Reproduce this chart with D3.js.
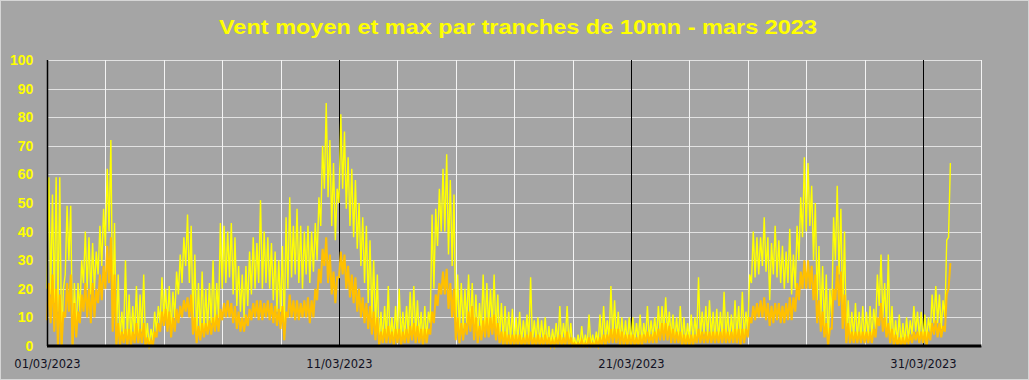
<!DOCTYPE html>
<html><head><meta charset="utf-8">
<script src="https://cdn.jsdelivr.net/npm/d3@7"></script>
<style>html,body{margin:0;padding:0;background:#A5A5A5;}svg{display:block;}</style>
</head><body>
<svg id="chart" width="1029" height="380"></svg>
<script>
const title = "Vent moyen et max par tranches de 10mn - mars 2023";
const xTickDays = [0, 10, 20, 30];
const xTickLabels = ["01/03/2023", "11/03/2023", "21/03/2023", "31/03/2023"];
const yTicks = [0,10,20,30,40,50,60,70,80,90,100];
// 3-hour blocks (8 per day), envelope
const maxHigh = [
59,53,59,59,20,49,49,22, 22,30,40,38,36,33,42,48, 62,72,43,25,12,30,18,14, 21,18,25,8,6,12,14,24,
20,21,19,26,32,38,46,42, 32,22,26,20,22,30,22,43, 42,40,43,38,28,25,28,33, 38,36,51,40,38,36,33,30,
35,45,52,42,48,42,40,42, 40,43,52,70,85,72,64,55, 81,75,66,62,58,50,45,42, 37,30,25,12,14,21,10,14,
20,12,14,19,21,16,12,14, 12,46,48,55,62,67,58,53, 25,22,20,25,22,18,15,25, 22,20,25,18,15,14,12,13,
10,12,9,11,24,9,10,9, 10,7,6,8,14,8,14,8, 3,4,7,4,11,4,5,11, 14,9,21,16,12,10,9,10,
10,8,11,8,14,9,10,14, 14,17,12,11,10,14,10,8, 11,10,24,12,14,16,12,13, 12,19,12,11,16,14,19,12,
25,40,38,38,45,38,36,42, 37,35,33,41,32,42,52,66, 64,56,50,35,28,25,20,45, 56,48,40,16,12,15,12,14,
12,14,13,25,32,22,32,14, 9,11,8,10,9,14,12,12, 11,10,18,21,18,16,37,64];
const maxLow = [
20,18,15,12,0,25,30,0, 5,12,22,20,18,20,25,28, 35,40,10,2,2,4,3,2, 4,3,5,0,0,2,5,8,
10,8,5,10,18,22,28,22, 8,3,4,5,6,8,6,10, 20,22,24,18,14,12,10,14, 18,20,22,20,22,20,16,12,
12,5,20,24,25,22,20,25, 22,26,30,42,55,52,42,37, 50,55,48,42,38,34,28,22, 15,10,6,0,2,3,2,2,
3,2,3,4,5,4,3,2, 2,8,20,35,40,40,32,28, 5,5,6,8,6,4,3,5, 5,6,7,4,2,2,1,2,
1,2,1,2,2,1,2,1, 1,0,0,1,1,1,2,0, 0,0,0,0,0,0,0,1, 1,2,2,3,2,2,1,1,
1,1,2,1,2,2,3,3, 4,5,4,3,2,2,2,1, 2,2,3,3,4,3,3,2, 2,3,3,2,3,3,2,3,
5,22,24,25,28,26,16,25, 24,22,20,22,18,20,30,38, 40,42,30,16,10,6,0,10, 30,25,10,2,3,3,2,2,
2,3,3,6,14,10,6,2, 1,1,0,1,2,4,5,3, 2,2,5,8,8,6,10,38];
const avgHigh = [
22,25,20,18,12,22,25,15, 12,18,22,20,22,20,25,28, 35,38,25,8,5,6,6,5, 8,6,8,3,2,5,8,12,
13,12,10,13,14,16,17,18, 10,7,8,8,9,10,11,13, 15,16,15,14,12,10,11,13, 15,16,16,15,16,15,14,13,
14,12,18,16,16,15,16,17, 16,20,27,34,38,32,26,24, 33,32,28,25,24,20,17,15, 14,12,10,5,6,7,5,6,
6,5,6,7,8,7,6,6, 6,12,18,22,26,27,22,20, 10,8,8,12,14,10,7,9, 10,10,11,8,5,5,4,4,
4,4,3,4,5,3,4,3, 4,3,2,3,4,3,5,3, 1,1,2,1,3,1,2,3, 4,4,6,6,6,5,4,4,
4,3,4,4,5,4,5,6, 8,8,7,6,5,5,4,4, 4,4,6,5,5,5,5,5, 5,6,5,5,6,6,6,6,
10,14,15,16,17,15,14,15, 15,14,15,17,17,22,26,30, 30,28,25,16,12,8,6,20, 28,26,18,8,5,5,5,5,
5,5,6,10,15,10,8,6, 4,3,3,3,4,5,5,5, 5,5,8,9,8,7,18,29];
const avgLow = [
9,8,5,0,0,10,12,0, 3,8,12,10,8,10,15,16, 20,22,5,0,0,1,0,0, 1,1,1,0,0,0,3,5,
7,5,3,5,8,10,12,10, 4,1,2,3,4,4,5,5, 9,10,10,8,6,5,5,7, 9,10,9,9,10,9,8,7,
6,2,10,10,9,9,10,10, 8,10,16,22,28,22,18,15, 24,25,20,17,15,12,10,8, 6,4,2,0,1,1,1,0,
1,0,1,1,2,1,1,0, 1,4,8,14,18,18,13,10, 2,1,2,4,5,2,1,2, 3,3,4,2,1,0,0,0,
0,0,0,0,0,0,0,0, 0,0,0,0,0,0,0,0, 0,0,0,0,0,0,0,0, 0,0,1,1,1,0,0,0,
0,0,0,0,1,1,1,1, 2,2,2,1,1,1,0,0, 0,0,1,1,1,1,1,1, 1,1,1,1,1,1,0,1,
3,8,9,10,10,9,7,8, 9,8,8,9,9,12,16,20, 20,20,16,8,5,3,0,6, 16,14,6,1,1,1,1,1,
1,1,1,3,7,5,3,1, 0,0,0,0,1,1,2,1, 1,0,2,4,3,3,5,20];

const svg = d3.select("#chart");
const W = 1029, H = 380;
const x = d3.scaleLinear().domain([0, 32]).range([47, 981.4]);
const y = d3.scaleLinear().domain([0, 100]).range([346, 60]);

svg.append("rect").attr("x",0.5).attr("y",0.5).attr("width",W-1).attr("height",H-1)
  .attr("fill","#A5A5A5").attr("stroke","#D6D6D6").attr("stroke-width",1);

// horizontal grid
svg.append("g").selectAll("line").data(yTicks.filter(v => v > 0)).join("line")
  .attr("x1", x(0)).attr("x2", x(32))
  .attr("y1", d => Math.round(y(d)) + 0.5).attr("y2", d => Math.round(y(d)) + 0.5)
  .attr("stroke", "#E2E2E2").attr("stroke-width", 1);

// vertical grid every 2 days
const vDays = d3.range(2, 33, 2);
svg.append("g").selectAll("line").data(vDays).join("line")
  .attr("x1", d => Math.round(x(d)) + 0.5).attr("x2", d => Math.round(x(d)) + 0.5)
  .attr("y1", y(100)).attr("y2", y(0))
  .attr("stroke", "#F4F4F4").attr("stroke-width", 1);
// black separators
svg.append("g").selectAll("line").data([10, 20, 30]).join("line")
  .attr("x1", d => Math.round(x(d)) + 0.5).attr("x2", d => Math.round(x(d)) + 0.5)
  .attr("y1", y(100)).attr("y2", y(0))
  .attr("stroke", "#000").attr("stroke-width", 1);

function buildPoints(high, low) {
  const pts = [];
  for (let i = 0; i < high.length; i++) {
    const t = i / 8;
    pts.push([t, low[i]]);
    pts.push([t + 1 / 16, high[i]]);
  }
  return pts;
}
const line = d3.line().x(d => x(d[0])).y(d => y(d[1]));

svg.append("path").datum(buildPoints(maxHigh, maxLow))
  .attr("d", line).attr("fill", "none").attr("stroke", "#FFFF00")
  .attr("stroke-width", 1.4).attr("stroke-linejoin", "miter");
svg.append("path").datum(buildPoints(avgHigh, avgLow))
  .attr("d", line).attr("fill", "none").attr("stroke", "#FFC000")
  .attr("stroke-width", 2).attr("stroke-linejoin", "miter");

// y axis
const yAxis = svg.append("g").attr("transform", `translate(${x(0)},0)`)
  .call(d3.axisLeft(y).tickValues(yTicks).tickSize(0).tickPadding(13.7));
yAxis.select(".domain").remove();
yAxis.selectAll("text").attr("fill", "#FFFF00")
  .style("font-family", "'Liberation Sans', Arial, sans-serif")
  .style("font-weight", "bold").style("font-size", "14px");
svg.append("line").attr("x1", 47.5).attr("x2", 47.5).attr("y1", y(100)).attr("y2", y(0))
  .attr("stroke", "#000").attr("stroke-width", 1.5);

// x axis
const xAxis = svg.append("g").attr("transform", `translate(0,${y(0)})`)
  .call(d3.axisBottom(x).tickValues(xTickDays).tickSize(0).tickPadding(13.8)
    .tickFormat((d, i) => xTickLabels[i]));
xAxis.select(".domain").remove();
xAxis.selectAll("text").attr("fill", "#111122")
  .style("font-family", "'DejaVu Sans', Verdana, sans-serif")
  .style("font-size", "11.5px");
svg.append("line").attr("x1", x(0)).attr("x2", x(32)).attr("y1", y(0)).attr("y2", y(0))
  .attr("stroke", "#000").attr("stroke-width", 3);

// title
svg.append("text").attr("x", 518).attr("y", 33.5).attr("text-anchor", "middle")
  .attr("fill", "#FFFF00")
  .style("font-family", "'Liberation Sans', Arial, sans-serif")
  .style("font-weight", "bold").style("font-size", "21px")
  .attr("textLength", 598).attr("lengthAdjust", "spacingAndGlyphs")
  .text(title);
</script>
</body></html>
